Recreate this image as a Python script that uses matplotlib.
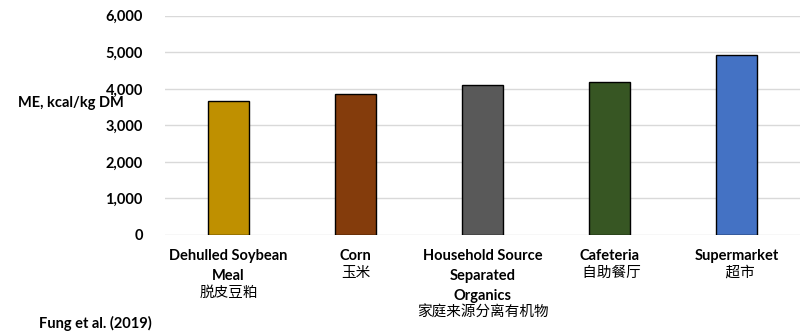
import matplotlib
matplotlib.use("Agg")
import matplotlib.pyplot as plt
from matplotlib.transforms import offset_copy

# ── data ─────────────────────────────────────────────────────────────
categories_en = ["Dehulled Soybean\nMeal", "Corn", "Household Source\nSeparated\nOrganics",
                 "Cafeteria", "Supermarket"]
categories_zh = ["脱皮豆粕", "玉米", "家庭来源分离有机物", " 自助餐厅", "  超市"]
me_values = [3660, 3860, 4110, 4190, 4930]
bar_colors = ["#BF9000", "#843C0C", "#595959", "#375623", "#4472C4"]
yticks = [0, 1000, 2000, 3000, 4000, 5000, 6000]

LATIN = "Lato"
CJK = ["Noto Sans CJK SC", "DejaVu Sans"]
FS = 10.5

fig = plt.figure(figsize=(8.05, 3.35), dpi=100)
ax = fig.add_axes([165 / 805, 1 - 235 / 335, 635 / 805, (235 - 15.7) / 335])

x = list(range(len(me_values)))
ax.bar(x, me_values, width=0.32, color=bar_colors, edgecolor="black", linewidth=1.0, zorder=3)

ax.set_xlim(-0.5, len(me_values) - 0.5)
ax.set_ylim(0, 6000)
ax.set_yticks(yticks)
ax.set_yticklabels([f"{v:,}" for v in yticks], fontfamily=LATIN, fontweight="bold", fontsize=FS)
ax.tick_params(axis="y", length=0, pad=16)
ax.tick_params(axis="x", length=0, labelbottom=False)
ax.grid(axis="y", color="#D9D9D9", linewidth=1.0, zorder=0)
for s in ax.spines.values():
    s.set_visible(False)

# two-level category labels: bold English, plain Chinese underneath
for i, (en, zh) in enumerate(zip(categories_en, categories_zh)):
    lines = en.split("\n")
    for k, line in enumerate(lines):
        tr = offset_copy(ax.get_xaxis_transform(), fig=fig, y=-(21 + k * 20), units="dots")
        ax.text(i, 0, line, transform=tr, ha="center", va="center",
                fontfamily=LATIN, fontweight="bold", fontsize=FS)
    tr = offset_copy(ax.get_xaxis_transform(), fig=fig,
                     y=-(21 + (len(lines) - 1) * 20 + 17), units="dots")
    ax.text(i, 0, zh, transform=tr, ha="center", va="center", family=CJK, fontsize=FS)

fig.text(18 / 805, 1 - 103 / 335, "ME, kcal/kg DM", ha="left", va="center",
         fontfamily=LATIN, fontweight="bold", fontsize=FS)
fig.text(39 / 805, 1 - 323 / 335, "Fung et al. (2019)", ha="left", va="center",
         fontfamily=LATIN, fontweight="bold", fontsize=FS)

fig.savefig("out.png", dpi=100, facecolor="white")
